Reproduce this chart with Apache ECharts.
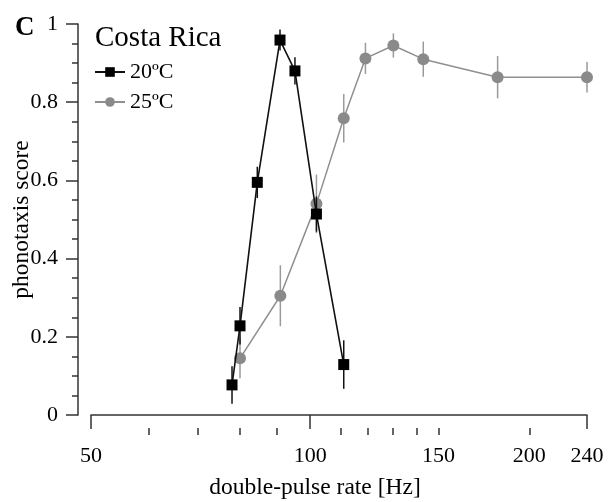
<!DOCTYPE html>
<html>
<head>
<meta charset="utf-8">
<script src="https://cdn.jsdelivr.net/npm/echarts@6/dist/echarts.min.js"></script>
<style>
html,body{margin:0;padding:0;background:#fff;}
#chart{width:609px;height:502px;}
</style>
</head>
<body>
<div id="chart"></div>
<script>
// ---- data ----
const rate20  = [78.1, 80.1, 84.6, 90.9, 95.3, 102.0, 111.2];
const score20 = [0.077, 0.228, 0.595, 0.959, 0.880, 0.514, 0.129];
const err20   = [0.048, 0.048, 0.040, 0.027, 0.035, 0.045, 0.062];

const rate25  = [80.1, 91.0, 102.0, 111.2, 119.1, 130.1, 143.0, 180.9, 240];
const score25 = [0.145, 0.305, 0.540, 0.759, 0.912, 0.945, 0.910, 0.864, 0.864];
const err25   = [0.051, 0.078, 0.075, 0.062, 0.040, 0.031, 0.045, 0.054, 0.039];

const xMajorTicks = [50, 100, 240];
const xMinorTicks = [60, 70, 80, 90, 110, 120, 130, 140, 150, 200];
const xTickLabels = [50, 100, 150, 200, 240];

const seriesNames = ['20ºC', '25ºC'];
const panelLabel = 'C';
const legendTitle = 'Costa Rica';

// ---- build ----
const FONT = '"Liberation Serif", "DejaVu Serif", serif';
const AX = '#333';

function pts(xs, ys) { return xs.map((x, i) => [x, ys[i]]); }
function bars(xs, ys, es) { return xs.map((x, i) => [x, ys[i] - es[i], ys[i] + es[i]]); }

function errRender(color) {
  return function (params, api) {
    const p1 = api.coord([api.value(0), api.value(1)]);
    const p2 = api.coord([api.value(0), api.value(2)]);
    return {
      type: 'line',
      shape: { x1: p1[0], y1: p1[1], x2: p2[0], y2: p2[1] },
      style: { stroke: color, lineWidth: 1.5 }
    };
  };
}

const chart = echarts.init(document.getElementById('chart'), null, { renderer: 'canvas' });

const xCommon = {
  type: 'log', logBase: 10, min: 50, max: 240, gridIndex: 0,
  position: 'bottom', offset: 13, splitLine: { show: false }
};

chart.setOption({
  animation: false,
  backgroundColor: '#fff',
  title: [
    { text: panelLabel, left: 10, top: 10, textStyle: { fontFamily: FONT, fontWeight: 'bold', fontSize: 27, color: '#000' } },
    { text: legendTitle, left: 90, top: 19, textStyle: { fontFamily: FONT, fontWeight: 'normal', fontSize: 29, color: '#000' } }
  ],
  legend: {
    orient: 'vertical', left: 89, top: 56, itemWidth: 30, itemHeight: 12, itemGap: 8,
    data: seriesNames,
    textStyle: { fontFamily: FONT, fontSize: 22, color: '#000' }
  },
  grid: { left: 91, right: 22, top: 24, bottom: 87, containLabel: false, outerBoundsMode: 'none' },
  xAxis: [
    Object.assign({}, xCommon, {
      name: 'double-pulse rate [Hz]', nameLocation: 'middle', nameGap: 48, nameMoveOverlap: false,
      nameTextStyle: { fontFamily: FONT, fontSize: 23.5, color: '#000', padding: [0, 48, 0, 0] },
      axisLine: { show: true, lineStyle: { color: AX, width: 1.5 } },
      axisTick: { show: true, customValues: xMajorTicks, length: 14, lineStyle: { color: AX, width: 1.5 } },
      axisLabel: { show: true, customValues: xTickLabels, margin: 17, fontFamily: FONT, fontSize: 22, color: '#000', formatter: v => String(v) }
    }),
    Object.assign({}, xCommon, {
      axisLine: { show: false },
      axisTick: { show: true, customValues: xMinorTicks, length: 7, lineStyle: { color: AX, width: 1.5 } },
      axisLabel: { show: false }
    })
  ],
  yAxis: {
    type: 'value', min: 0, max: 1, interval: 0.2, offset: 13,
    name: 'phonotaxis score', nameLocation: 'middle', nameGap: 44, nameMoveOverlap: false,
    nameTextStyle: { fontFamily: FONT, fontSize: 23.5, color: '#000' },
    axisLine: { show: true, lineStyle: { color: AX, width: 1.5 } },
    axisTick: { show: true, length: 12, lineStyle: { color: AX, width: 1.5 } },
    minorTick: { show: true, splitNumber: 4, length: 6, lineStyle: { color: AX, width: 1.5 } },
    splitLine: { show: false },
    axisLabel: { margin: 20, fontFamily: FONT, fontSize: 22, color: '#000', formatter: v => String(Math.round(v * 10) / 10) }
  },
  series: [
    {
      type: 'custom', name: 'err25', renderItem: errRender('#9a9a9a'),
      data: bars(rate25, score25, err25), z: 1, silent: true,
      encode: { x: 0, y: [1, 2] }
    },
    {
      type: 'line', name: seriesNames[1], data: pts(rate25, score25), z: 2,
      symbol: 'circle', symbolSize: 12,
      itemStyle: { color: '#8a8a8a' },
      lineStyle: { color: '#8f8f8f', width: 1.5 }
    },
    {
      type: 'custom', name: 'err20', renderItem: errRender('#111'),
      data: bars(rate20, score20, err20), z: 3, silent: true,
      encode: { x: 0, y: [1, 2] }
    },
    {
      type: 'line', name: seriesNames[0], data: pts(rate20, score20), z: 4,
      symbol: 'rect', symbolSize: 11,
      itemStyle: { color: '#000' },
      lineStyle: { color: '#111', width: 1.6 }
    }
  ]
});
</script>
</body>
</html>
